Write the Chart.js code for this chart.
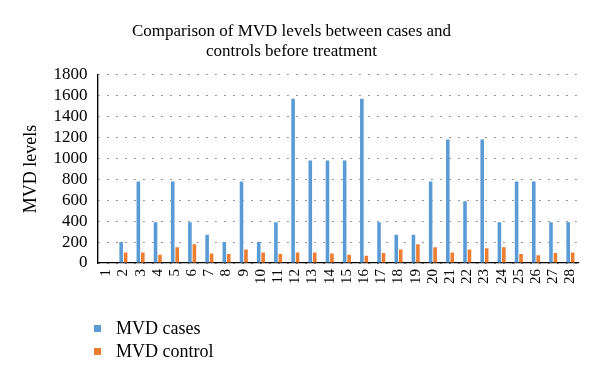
<!DOCTYPE html>
<html>
<head>
<meta charset="utf-8">
<script src="https://cdn.jsdelivr.net/npm/chart.js@4"></script>
<style>
  body { margin: 0; background: #fff; }
  #wrap { position: relative; width: 600px; height: 380px; }
  #legend { position: absolute; left: 94px; top: 317px; font-family: 'Liberation Serif', serif; font-size: 18px; color: #000; }
  #legend div { height: 23px; line-height: 23px; }
  #legend span.box { display: inline-block; width: 7px; height: 7px; margin-right: 15px; vertical-align: middle; position: relative; top: -1px; }
</style>
</head>
<body>
<div id="wrap">
  <canvas id="mvdChart" width="600" height="380"></canvas>
  <div id="legend"></div>
</div>
<script>
var patients = ['1','2','3','4','5','6','7','8','9','10','11','12','13','14','15','16','17','18','19','20','21','22','23','24','25','26','27','28']

// MVD levels
var mvdCases = [0, 200, 780, 390, 780, 390, 270, 200, 780, 200, 390, 1570, 980, 980, 980, 1570, 390, 270, 270, 780, 1180, 590, 1180, 390, 780, 780, 390, 390]
var mvdControl = [0, 100, 100, 80, 150, 180, 90, 85, 130, 100, 85, 100, 100, 90, 80, 70, 95, 130, 180, 150, 100, 130, 140, 150, 85, 75, 95, 100]

var seriesNames = ['MVD cases', 'MVD control']
var seriesColors = ['#5b9bd5', '#ed7d31']

Chart.defaults.font.family = "'Liberation Serif', serif"
Chart.defaults.color = '#000'

var ctx = document.getElementById('mvdChart').getContext('2d')
var chart = new Chart(ctx, {
  type: 'bar',
  data: {
    labels: patients,
    datasets: [
      {
        label: seriesNames[0],
        backgroundColor: seriesColors[0],
        data: mvdCases,
        categoryPercentage: 0.52,
        barPercentage: 0.8
      },
      {
        label: seriesNames[1],
        backgroundColor: seriesColors[1],
        data: mvdControl,
        categoryPercentage: 0.52,
        barPercentage: 0.8
      }
    ]
  },
  options: {
    responsive: false,
    animation: false,
    layout: { padding: { top: 10, left: 4, right: 21, bottom: 90 } },
    plugins: {
      legend: { display: false },
      tooltip: { enabled: false },
      title: {
        display: true,
        text: ['Comparison of MVD levels between cases and', 'controls before treatment'],
        font: { size: 17, weight: 'normal' },
        color: '#000',
        padding: { top: 11, bottom: 13 }
      }
    },
    scales: {
      x: {
        // only the first grid line is shown: it doubles the vertical axis line
        grid: {
          drawTicks: false,
          lineWidth: 1.2,
          color: function (c) { return c.index === 0 ? '#000' : 'rgba(0,0,0,0)' }
        },
        border: { color: '#000', width: 1.2 },
        ticks: { autoSkip: false, minRotation: 90, maxRotation: 90, font: { size: 15 }, padding: 6 }
      },
      y: {
        min: 0,
        max: 1800,
        ticks: {
          stepSize: 200,
          autoSkip: false,
          font: { size: 17 },
          padding: 10,
          callback: function (v) { return String(v) }
        },
        grid: { color: '#777', lineWidth: 1, drawTicks: false },
        // dotted grid lines, solid axis line
        border: {
          display: true,
          color: '#000',
          width: 1.2,
          dash: function (c) { return c.type === 'tick' ? [1.5, 7.5] : [] }
        },
        title: { display: true, text: 'MVD levels', font: { size: 18 }, padding: { top: 16, bottom: 2 } }
      }
    }
  }
})

// legend below the chart, one item per row
var legendEl = document.getElementById('legend')
chart.data.datasets.forEach(function (ds) {
  var row = document.createElement('div')
  var box = document.createElement('span')
  box.className = 'box'
  box.style.background = ds.backgroundColor
  row.appendChild(box)
  row.appendChild(document.createTextNode(ds.label))
  legendEl.appendChild(row)
})
</script>
</body>
</html>
